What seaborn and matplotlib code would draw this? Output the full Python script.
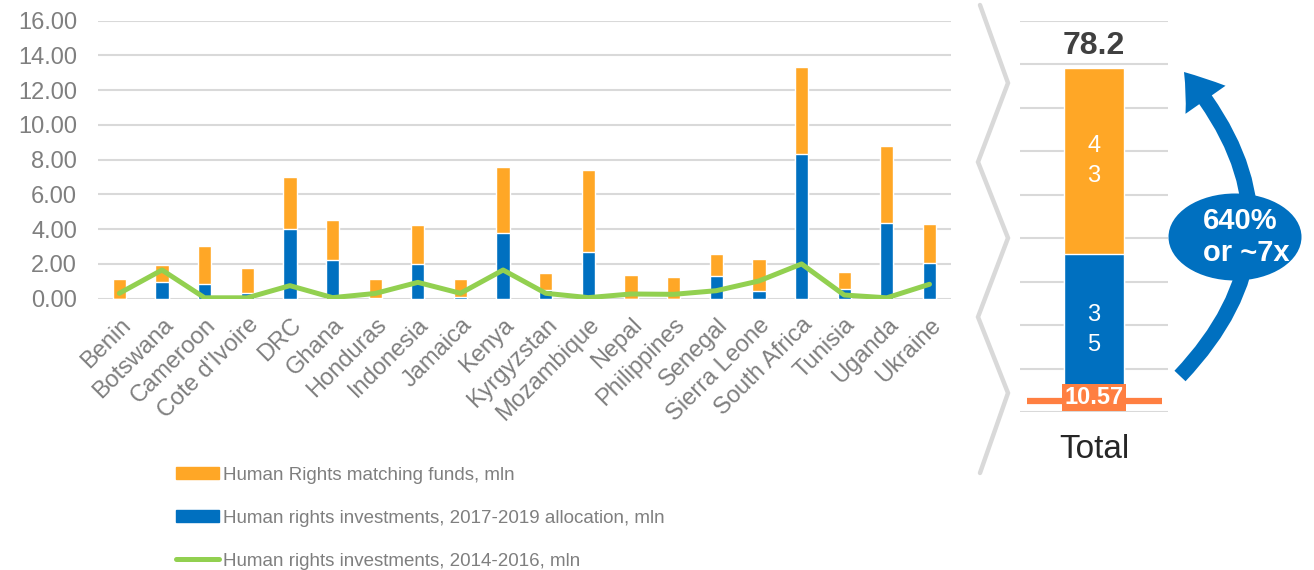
import numpy as np
import pandas as pd
import matplotlib
matplotlib.use("Agg")
import matplotlib.pyplot as plt
import seaborn as sns
from matplotlib.patches import Patch, Ellipse, FancyArrowPatch
from matplotlib.lines import Line2D
from matplotlib.path import Path

countries = ['Benin', 'Botswana', 'Cameroon', "Cote d'Ivoire", 'DRC', 'Ghana',
             'Honduras', 'Indonesia', 'Jamaica', 'Kenya', 'Kyrgyzstan',
             'Mozambique', 'Nepal', 'Philippines', 'Senegal', 'Sierra Leone',
             'South Africa', 'Tunisia', 'Uganda', 'Ukraine']
alloc_2017 = [0.00, 0.98, 0.86, 0.35, 3.99, 2.25, 0.05, 1.98, 0.08, 3.78,
              0.48, 2.67, 0.00, 0.00, 1.31, 0.46, 8.33, 0.56, 4.37, 2.04]
matching = [1.12, 0.96, 2.15, 1.43, 3.00, 2.28, 1.10, 2.28, 1.04, 3.80,
            1.02, 4.72, 1.35, 1.25, 1.26, 1.82, 5.01, 0.99, 4.42, 2.28]
inv_2014 = [0.31, 1.65, 0.05, 0.05, 0.75, 0.06, 0.30, 0.94, 0.31, 1.65,
            0.31, 0.06, 0.27, 0.25, 0.46, 1.02, 2.00, 0.21, 0.05, 0.83]

total_alloc = 35.2
total_matching = 43.0
total_label = '78.2'
total_2014 = 10.57

orange = '#FFA726'
blue = '#0070C0'
green = '#92D050'
coral = '#FF7F41'
grey_txt = '#7F7F7F'
grid_col = '#D9D9D9'

df = pd.DataFrame({'country': countries, 'alloc': alloc_2017, 'match': matching,
                   'old': inv_2014})
df['total'] = df['alloc'] + df['match']
df['pos'] = np.arange(len(df))

sns.set_theme(style='white')
plt.rcParams['font.family'] = ['Liberation Sans', 'DejaVu Sans']

fig = plt.figure(figsize=(13.14, 5.7), dpi=100)
ax = fig.add_axes([0.0746, 0.476, 0.649, 0.4877])

sns.barplot(data=df, x='country', y='total', color=orange, width=0.31,
            saturation=1, ax=ax, zorder=2)
sns.barplot(data=df, x='country', y='alloc', color=blue, width=0.31,
            saturation=1, ax=ax, zorder=3)
sns.lineplot(data=df, x='pos', y='old', color=green, linewidth=3.6, ax=ax,
             zorder=4)

ax.set_xlim(-0.5, len(df) - 0.5)
ax.set_ylim(0, 16)
ax.set_yticks(np.arange(0, 17, 2))
ax.set_yticklabels([f'{v:.2f}' for v in np.arange(0, 17, 2)])
ax.yaxis.grid(True, color=grid_col, linewidth=1.5, zorder=0)
ax.set_axisbelow(True)
for s in ax.spines.values():
    s.set_visible(False)
ax.set_xlabel('')
ax.set_ylabel('')
ax.tick_params(axis='y', length=0, pad=15, labelsize=17, labelcolor=grey_txt)
ax.tick_params(axis='x', length=0, pad=11, labelsize=17, labelcolor=grey_txt)
ax.set_xticks(df['pos'])
ax.set_xticklabels(countries, rotation=45, ha='right', rotation_mode='anchor')

handles = [Patch(color=orange), Patch(color=blue),
           Line2D([0], [0], color=green, linewidth=3.6)]
labels = ['Human Rights matching funds, mln',
          'Human rights investments, 2017-2019 allocation, mln',
          'Human rights investments, 2014-2016, mln']
fig.legend(handles, labels, loc='upper left', bbox_to_anchor=(0.134, 0.181),
           frameon=False, fontsize=13.5, labelcolor=grey_txt, handlelength=2.3,
           handleheight=0.62, handletextpad=0.2, labelspacing=1.38,
           borderpad=0, borderaxespad=0)

# total panel
axr = fig.add_axes([0.776, 0.2772, 0.1132, 0.6865])
tot = pd.DataFrame({'x': ['Total'], 'alloc': [total_alloc],
                    'sum': [total_alloc + total_matching]})
sns.barplot(data=tot, x='x', y='sum', color=orange, width=0.4, saturation=1,
            ax=axr, zorder=2)
sns.barplot(data=tot, x='x', y='alloc', color=blue, width=0.4, saturation=1,
            ax=axr, zorder=3)
ylo, yhi = -1.4, 89.2
axr.set_xlim(-0.5, 0.5)
axr.set_ylim(ylo, yhi)
axr.set_yticks(np.linspace(ylo, yhi, 10))
axr.set_yticklabels([])
axr.yaxis.grid(True, color=grid_col, linewidth=1.5, zorder=0)
axr.set_axisbelow(True)
for s in axr.spines.values():
    s.set_visible(False)
axr.set_xlabel('')
axr.set_ylabel('')
axr.tick_params(axis='x', length=0, pad=16, labelsize=24, labelcolor='#262626')
axr.tick_params(axis='y', length=0)

axr.text(0, total_alloc + total_matching + 3.4, total_label, ha='center',
         va='baseline', fontsize=23, fontweight='bold', color='#404040')
axr.text(0, total_alloc + total_matching / 2, '4\n3', ha='center',
         va='center', fontsize=17, color='white', linespacing=1.5, zorder=5)
axr.text(0, total_alloc / 2, '3\n5', ha='center', va='center',
         fontsize=17, color='white', linespacing=1.5, zorder=5)
axr.plot([0.047, 0.96], [0.028, 0.028], transform=axr.transAxes, color=coral,
         linewidth=4.5, zorder=6, solid_capstyle='butt')
axr.text(0, 0.037, f'{total_2014:.2f}', transform=axr.get_xaxis_transform(),
         ha='center', va='center', fontsize=17, fontweight='bold',
         color='white', zorder=7,
         bbox=dict(boxstyle='square,pad=0.1', facecolor=coral,
                   edgecolor='none'))

# decoration layer in pixel coords
ov = fig.add_axes([0, 0, 1, 1], zorder=10)
ov.set_xlim(0, 1314)
ov.set_ylim(570, 0)
ov.axis('off')
ov.patch.set_alpha(0)

zig_x = [980, 1008, 978, 1008, 978, 1008, 980]
zig_y = [5, 83, 162, 238, 317, 393, 473]
ov.plot(zig_x, zig_y, color=grid_col, linewidth=3.2, solid_joinstyle='miter')

arc = Path([(1180, 376), (1318, 230), (1184, 72)],
           [Path.MOVETO, Path.CURVE3, Path.CURVE3])
arrow = FancyArrowPatch(path=arc, transform=ov.transData,
                        arrowstyle='simple,head_length=1.15,head_width=1.6,tail_width=0.5',
                        mutation_scale=22, color=blue, linewidth=0)
ov.add_patch(arrow)
ov.add_patch(Ellipse((1235, 237), 133, 87, facecolor=blue, edgecolor='none'))
ov.text(1203, 237, '640%\nor ~7x', ha='left', va='center', fontsize=21,
        fontweight='bold', color='white', linespacing=1.2)

fig.savefig('out.png', dpi=100)
